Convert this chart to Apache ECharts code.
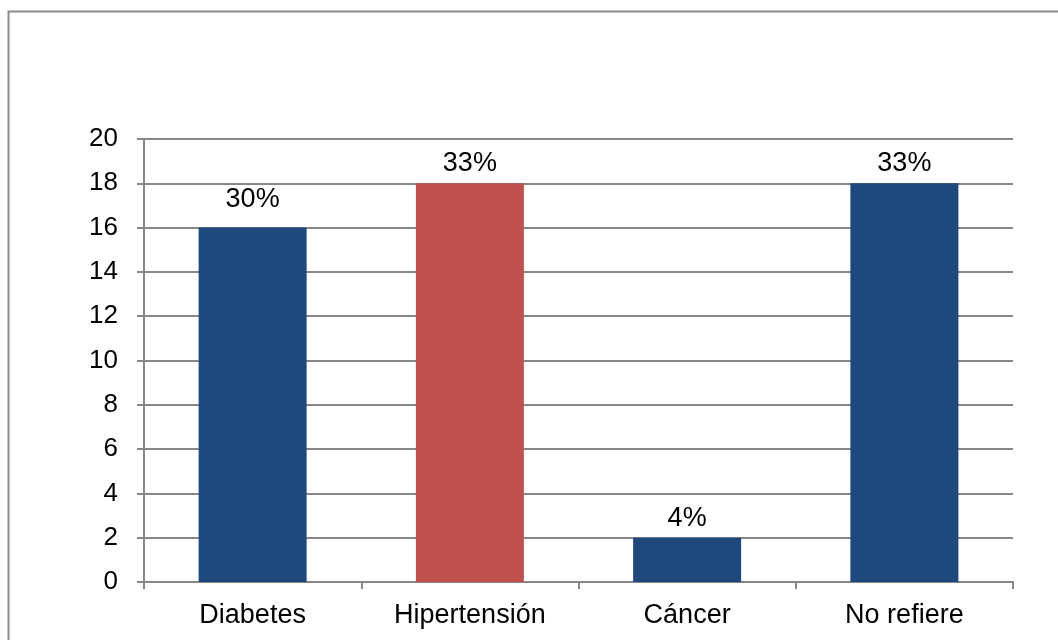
<!DOCTYPE html>
<html>
<head>
<meta charset="utf-8">
<script src="https://cdn.jsdelivr.net/npm/echarts@6/dist/echarts.min.js"></script>
<style>
  html, body { margin: 0; padding: 0; background: #fff; }
  #chart { width: 1058px; height: 640px; }
</style>
</head>
<body>
<div id="chart"></div>
<script>
// Enfermedades referidas: número de casos y porcentaje
const categories = ['Diabetes', 'Hipertensión', 'Cáncer', 'No refiere'];
const counts = [16, 18, 2, 18];
const percentLabels = ['30%', '33%', '4%', '33%'];
const barColors = ['#1F497D', '#C0504D', '#1F497D', '#1F497D'];

const FONT = '"Liberation Sans", Arial, sans-serif';

const chart = echarts.init(document.getElementById('chart'), null, { renderer: 'canvas' });

chart.setOption({
  animation: false,
  backgroundColor: '#ffffff',
  graphic: [{
    type: 'rect',
    shape: { x: 8.5, y: 11.5, width: 1100, height: 700 },
    style: { fill: 'none', stroke: '#8c8c8c', lineWidth: 2 },
    silent: true
  }],
  grid: { left: 144, right: 45, top: 139, bottom: 58, containLabel: false },
  xAxis: {
    type: 'category',
    data: categories,
    axisLine: { lineStyle: { color: '#868686', width: 2 } },
    axisTick: { show: true, alignWithLabel: false, length: 7, lineStyle: { color: '#868686', width: 2 } },
    axisLabel: { color: '#000', fontFamily: FONT, fontSize: 27, margin: 20 },
    splitLine: { show: false }
  },
  yAxis: {
    type: 'value',
    min: 0, max: 20, interval: 2,
    axisLine: { show: true, lineStyle: { color: '#868686', width: 2 } },
    axisTick: { show: true, length: 7, lineStyle: { color: '#868686', width: 2 } },
    axisLabel: { color: '#000', fontFamily: FONT, fontSize: 26, margin: 26 },
    splitLine: { show: true, lineStyle: { color: '#868686', width: 2 } }
  },
  series: [{
    type: 'bar',
    barWidth: 108,
    data: counts.map((v, i) => ({
      value: v,
      itemStyle: { color: barColors[i] },
      label: i === 0 ? { distance: 15 } : undefined
    })),
    label: {
      show: true,
      position: 'top',
      distance: 6,
      color: '#000',
      fontFamily: FONT,
      fontSize: 27,
      formatter: p => percentLabels[p.dataIndex]
    }
  }]
});
</script>
</body>
</html>
